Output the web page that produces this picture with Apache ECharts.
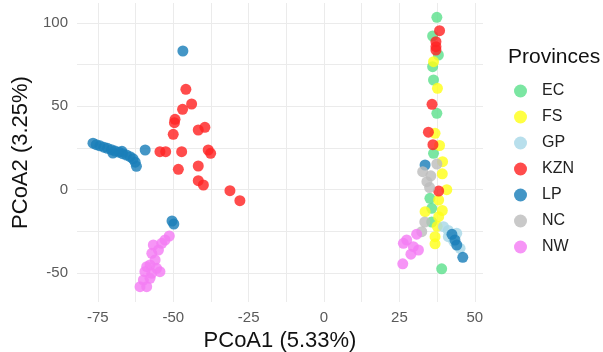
<!DOCTYPE html>
<html>
<head>
<meta charset="utf-8">
<script src="https://cdn.jsdelivr.net/npm/echarts@6/dist/echarts.min.js"></script>
<style>
  html, body { margin: 0; padding: 0; background: #fff; }
  #chart { width: 603px; height: 352px; }
</style>
</head>
<body>
<div id="chart"></div>
<script>
const provinces = ['EC', 'FS', 'GP', 'KZN', 'LP', 'NC', 'NW'];
const colors = ['#5ee08e', '#ffff1a', '#a8d8e8', '#ff2424', '#1b7fba', '#bdbdbd', '#f47ef4'];

// PCoA1, PCoA2 per province
const EC = [[37.4, 103.4], [36, 92.2], [37.9, 80.8], [36, 73.8], [36.3, 65.8], [37.4, 45.8],
  [36.3, 21.8], [35.1, -5.2], [35.7, -11.2], [35.7, -19.4], [39, -47.5]];
const FS = [[36.3, 76.8], [37.6, 60.8], [36.8, 33.8], [38.3, 26.5], [39.3, 16.8], [39.2, 9.5],
  [40.7, 0], [38, -6.2], [33.5, -13.2], [39.2, -12.5], [38, -16.2], [36.8, -28.2],
  [36.8, -32.5], [37.5, -22]];
const GP = [[39.6, -22.2], [41.2, -24.5], [44, -26.2], [41.2, -28.2], [43, -31], [45.1, -35.2]];
const KZN = [[-45.8, 60.2], [-43.9, 51.4], [-46.9, 48.2], [-49.4, 42.2], [-49.6, 40.2],
  [-39.5, 37.4], [-41.7, 35.8], [-50, 33.2], [-54.4, 22.8], [-52.5, 22.8], [-47.2, 22.8],
  [-38.4, 23.8], [-37.6, 21.8], [-48.3, 12.2], [-41.7, 14.2], [-41.7, 5.4], [-40, 2.8],
  [-31.2, -0.6], [-27.9, -6.6],
  [38.3, 95.4], [37.1, 88.8], [37.1, 85.8], [37.1, 83.8], [35.8, 51.2], [34.6, 34.5],
  [36.1, 27], [38, -0.8]];
const LP = [[-46.8, 83.2], [-76.6, 27.9], [-75.5, 27], [-74.3, 26.3], [-73, 25.5], [-71.8, 24.8],
  [-70.5, 24], [-69.3, 23.2], [-68, 22.5], [-66.8, 21.6], [-65.5, 20.8], [-64.3, 19.8],
  [-63.3, 18.5], [-62.6, 16.5], [-62.2, 14], [-59.3, 23.8], [-70, 22], [-67, 23],
  [-50.4, -18.8], [-49.8, -20.6],
  [33.5, 14.8], [42.4, -26.8], [43.4, -30.2], [44, -33.2], [46, -40.6]];
const NC = [[37.4, 15.4], [32.7, 10.8], [35.4, 8.3], [34.1, 4.8], [35, 1.3], [33.4, -19.4], [32.4, -25.2]];
const NW = [[-51.3, -27.8], [-52.7, -30.2], [-53.8, -32.2], [-56.6, -33.2], [-54.9, -36.2],
  [-57.1, -38.2], [-56, -42.2], [-57.7, -45.2], [-58.8, -46.2], [-55.5, -47.2], [-59.4, -49.2],
  [-57.1, -50.2], [-57.7, -53.2], [-58.8, -58.2], [-61, -58.2], [-59.9, -54.2], [-54.4, -49.2],
  [30.7, -26.7], [27.4, -30.2], [26.3, -32.2], [29.6, -34.2], [31.3, -36.2], [28.8, -38.7], [26.1, -44.5]];
const groups = [EC, FS, GP, KZN, LP, NC, NW];

const xLabels = [-75, -50, -25, 0, 25, 50];
const yLabels = [-50, 0, 50, 100];
const xGrid = [-75, -62.5, -50, -37.5, -25, -12.5, 0, 12.5, 25, 37.5, 50];
const yGrid = [-50, -25, 0, 25, 50, 75, 100];

const chart = echarts.init(document.getElementById('chart'));
chart.setOption({
  animation: false,
  textStyle: { fontFamily: 'Liberation Sans, Arial, sans-serif' },
  grid: { left: 77, right: 120, top: 3, bottom: 50, outerBoundsMode: 'none' },
  title: {
    text: 'Provinces',
    left: 503, top: 42,
    textStyle: { fontSize: 21, fontWeight: 'normal', color: '#111' }
  },
  legend: {
    orient: 'vertical',
    left: 509, top: 78,
    icon: 'circle',
    itemWidth: 13, itemHeight: 13,
    itemGap: 10,
    textStyle: { fontSize: 16, lineHeight: 13, color: '#222', padding: [0, 0, 0, 10] },
    data: provinces
  },
  xAxis: {
    type: 'value',
    min: -81.9, max: 52.7,
    name: 'PCoA1 (5.33%)',
    nameLocation: 'middle',
    nameGap: 28,
    nameTextStyle: { fontSize: 22, color: '#111' },
    axisLine: { show: false },
    axisTick: { show: false, customValues: xGrid },
    axisLabel: { customValues: xLabels, fontSize: 15, color: '#5a5a5a', margin: 8 },
    splitLine: { lineStyle: { color: '#ebebeb', width: 1 } }
  },
  yAxis: {
    type: 'value',
    min: -67.4, max: 112,
    name: 'PCoA2 (3.25%)',
    nameLocation: 'middle',
    nameGap: 42,
    nameTextStyle: { fontSize: 22, color: '#111' },
    axisLine: { show: false },
    axisTick: { show: false, customValues: yGrid },
    axisLabel: { customValues: yLabels, fontSize: 15, color: '#5a5a5a', margin: 9 },
    splitLine: { lineStyle: { color: '#ebebeb', width: 1 } }
  },
  series: provinces.map((p, i) => ({
    name: p,
    type: 'scatter',
    data: groups[i],
    symbolSize: 11,
    itemStyle: { color: colors[i], opacity: 0.82 }
  }))
});
</script>
</body>
</html>
